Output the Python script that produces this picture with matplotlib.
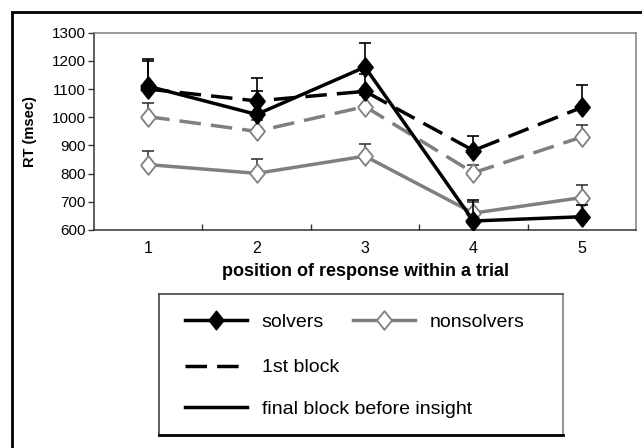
import matplotlib
matplotlib.use('Agg')
import matplotlib.pyplot as plt
from matplotlib.lines import Line2D
from matplotlib.patches import Rectangle

plt.rcParams['font.family'] = ['Liberation Sans', 'DejaVu Sans']

# RT per response position
positions = [1, 2, 3, 4, 5]
solvers_first = [1100, 1058, 1092, 882, 1035]
solvers_first_err = [100, 80, 60, 52, 80]
solvers_final = [1110, 1010, 1178, 632, 647]
solvers_final_err = [95, 83, 84, 75, 40]
nonsolvers_first = [1002, 950, 1038, 803, 930]
nonsolvers_first_err = [50, 40, 40, 28, 42]
nonsolvers_final = [832, 801, 862, 660, 715]
nonsolvers_final_err = [48, 50, 43, 38, 44]

y_ticks = [600, 700, 800, 900, 1000, 1100, 1200, 1300]

BLACK = '#000000'
GRAY = '#7f7f7f'
LW = 2.5
DASH = (6.2, 2.9)
MS = 13.5
# Excel style diamond, a bit taller than wide (closed path)
diamond = [(-0.8, 0), (0, 1), (0.8, 0), (0, -1), (-0.8, 0)]

W, H = 642, 448
fig = plt.figure(figsize=(W / 100, H / 100), dpi=100)

# outer frame, runs off the right and bottom edges
fig.patches.append(Rectangle((12 / W, -0.5), 2, 1 - 12 / H + 0.5, transform=fig.transFigure,
                             fill=False, lw=2, ec='black'))

ax = fig.add_axes([94 / W, 1 - 230 / H, (636 - 94) / W, (230 - 32.7) / H])


def draw_series(y, err, color, ecolor, dashed, filled, z):
    zeros = [0] * len(err)
    ax.errorbar(positions, y, yerr=[zeros, err], fmt='none', ecolor=ecolor,
                elinewidth=1.2, capsize=4, capthick=1.2, zorder=z - 0.5)
    kw = dict(color=color, lw=LW, marker=diamond, ms=MS, mec=color, mew=1.3,
              mfc=color if filled else 'white', zorder=z)
    if dashed:
        kw['dashes'] = DASH
    ax.plot(positions, y, **kw)


draw_series(nonsolvers_final, nonsolvers_final_err, GRAY, '#3a3a3a', False, False, 2)
draw_series(nonsolvers_first, nonsolvers_first_err, GRAY, '#3a3a3a', True, False, 3)
draw_series(solvers_first, solvers_first_err, BLACK, BLACK, True, True, 4)
draw_series(solvers_final, solvers_final_err, BLACK, BLACK, False, True, 5)

ax.set_xlim(0.5, 5.5)
ax.set_ylim(600, 1300)
ax.set_xticks(positions)
ax.set_xticks([1.5, 2.5, 3.5, 4.5], minor=True)
ax.set_yticks(y_ticks)
ax.tick_params(axis='x', which='major', length=0, pad=8, labelsize=11.5)
ax.tick_params(axis='x', which='minor', direction='in', length=4, width=1, color='#333333')
ax.tick_params(axis='y', direction='out', length=4, width=1, color='#333333', pad=2, labelsize=11)

ax.spines['left'].set_color('#333333')
ax.spines['bottom'].set_color('#333333')
ax.spines['top'].set_color(GRAY)
ax.spines['right'].set_color(GRAY)
for s in ax.spines.values():
    s.set_linewidth(1.1)

ax.set_xlabel('position of response within a trial', fontsize=13, fontweight='bold')
ax.xaxis.set_label_coords(0.5, -0.165)
ax.set_ylabel('RT (msec)', fontsize=10.5, fontweight='bold')
ax.yaxis.set_label_coords(-0.105, 0.5)

# legend box below the chart
lax = fig.add_axes([159 / W, 1 - 435 / H, 404 / W, 141 / H])
lax.set_xticks([])
lax.set_yticks([])
for s in lax.spines.values():
    s.set_color('#444444')
    s.set_linewidth(1.2)
lax.spines['bottom'].set_color('black')
lax.spines['bottom'].set_linewidth(2)
lax.spines['right'].set_color(GRAY)

h_solv = Line2D([], [], color=BLACK, lw=LW, marker=diamond, ms=MS, mfc=BLACK, mec=BLACK)
h_nons = Line2D([], [], color=GRAY, lw=LW, marker=diamond, ms=MS, mfc='white', mec=GRAY, mew=1.3)
h_first = Line2D([], [], color=BLACK, lw=LW, dashes=DASH)
h_final = Line2D([], [], color=BLACK, lw=LW)

leg_kw = dict(frameon=False, fontsize=14, handlelength=3.2, handletextpad=0.75,
              borderpad=0, borderaxespad=0, numpoints=1)
leg1 = lax.legend([h_solv, h_nons], ['solvers', 'nonsolvers'], ncol=2, columnspacing=1.5,
                  loc='center left', bbox_to_anchor=(0.064, 0.80), **leg_kw)
lax.add_artist(leg1)
lax.legend([h_first, h_final], ['1st block', 'final block before insight'], labelspacing=1.25,
           loc='center left', bbox_to_anchor=(0.064, 0.33), **leg_kw)

fig.savefig('out.png', dpi=100, facecolor='white')
